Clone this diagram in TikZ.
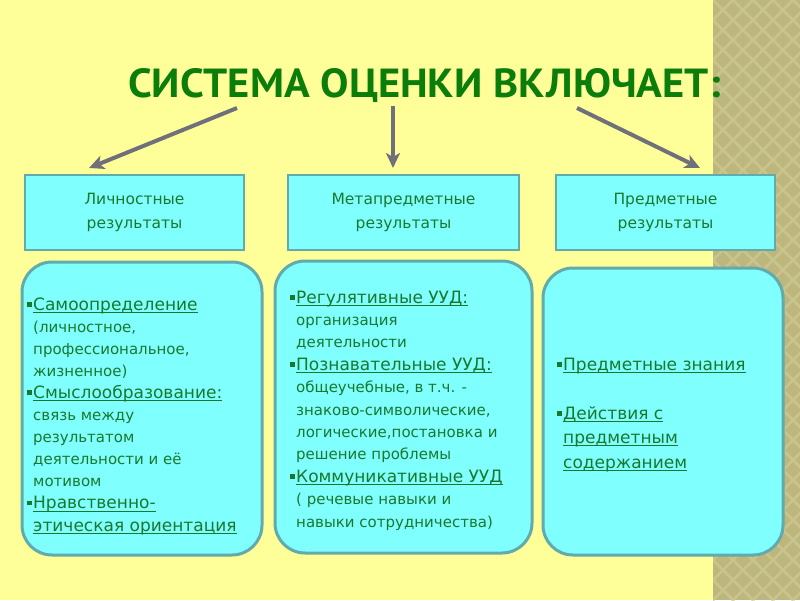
\documentclass[tikz,border=0pt]{standalone}
\usepackage{fontspec}
\usepackage{graphicx}
\setmainfont{DejaVu Sans}
\newfontfamily\titlefont{PT Sans}
\usetikzlibrary{arrows.meta}
\definecolor{bgY}{RGB}{255,255,153}
\definecolor{khaki}{RGB}{189,183,126}
\definecolor{khakiL}{RGB}{201,195,142}
\definecolor{cyanF}{RGB}{128,255,255}
\definecolor{boxB}{RGB}{98,170,172}
\definecolor{titleG}{RGB}{10,125,10}
\definecolor{textG}{RGB}{25,120,45}
\definecolor{arrG}{RGB}{112,112,122}
\newcommand\uln[1]{\setbox0\hbox{#1}\rlap{\rule[-2.6pt]{\wd0}{1pt}}\box0}
\newcommand\bul{\llap{\rule[3.5pt]{4.5pt}{4.5pt}\hspace{1.5pt}}}
\newcommand\hd[1]{{\fontsize{17}{22}\selectfont\bul\uln{#1}}}
\newcommand\hdc[1]{{\fontsize{17}{22}\selectfont\uln{#1}}}
\tikzset{
  topbox/.style={draw=boxB, line width=2.5pt, fill=cyanF, inner sep=0pt, text=textG,
    align=center, font=\fontsize{15.5}{24}\selectfont, minimum height=75pt},
  bigbox/.style={draw=boxB, line width=3pt, fill=cyanF, rounded corners=30pt, inner sep=0pt},
  bodytxt/.style={text=textG, align=left, inner sep=0pt, anchor=base west},
  arr/.style={draw=arrG, line width=4pt, -{Stealth[length=15pt,width=14pt,inset=4pt]}}
}
\begin{document}
\begin{tikzpicture}[x=1pt,y=-1pt]
\useasboundingbox (0,0) rectangle (800,600);
\fill[bgY] (0,0) rectangle (713,600);
\fill[khaki] (713,0) rectangle (800,600);
\begin{scope}
\clip (713,0) rectangle (800,600);
\foreach \i in {-32,...,36} {
  \draw[khakiL, line width=2.5pt] ({713+\i*20},0) -- ++(600,600);
  \draw[khakiL, line width=2.5pt] ({713+\i*20},0) -- ++(-600,600);
}
\end{scope}

\node[text=titleG, inner sep=0pt, anchor=base west] (title) at (128,97)
  {\resizebox{592pt}{29pt}{\titlefont\bfseries СИСТЕМА ОЦЕНКИ ВКЛЮЧАЕТ:}};

\node[topbox, minimum width=219pt] (p1) at (134.5,212.5) {Личностные\\результаты};
\node[topbox, minimum width=231pt] (p2) at (403.5,212.5) {Метапредметные\\результаты};
\node[topbox, minimum width=219pt] (p3) at (665.5,212.5) {Предметные\\результаты};

\coordinate (a1s) at (237,108);
\coordinate (a1e) at (89,168);
\coordinate (a2s) at (393,106);
\coordinate (a2e) at (393,168);
\coordinate (a3s) at (577,108);
\coordinate (a3e) at (700,168);
\draw[arr] (a1s) -- (a1e);
\draw[arr] (a2s) -- (a2e);
\draw[arr] (a3s) -- (a3e);

\node[bigbox, minimum width=240pt, minimum height=293pt] (b1) at (142,408.5) {};
\node[bigbox, minimum width=257pt, minimum height=292pt] (b2) at (403.5,407) {};
\node[bigbox, minimum width=240pt, minimum height=287pt] (b3) at (663,411.5) {};

\node[bodytxt, font=\fontsize{15}{22.1}\selectfont] (t1) at (33,531) {%
\hd{Самоопределение}\\
(личностное,\\
профессиональное,\\
жизненное)\\
\hd{Смыслообразование:}\\
связь между\\
результатом\\
деятельности и её\\
мотивом\\
\hd{Нравственно-}\\
\hdc{этическая ориентация}};

\node[bodytxt, font=\fontsize{15}{22.4}\selectfont] (t2) at (296,527) {%
\hd{Регулятивные УУД:}\\
организация\\
деятельности\\
\hd{Познавательные УУД:}\\
общеучебные, в т.ч. -\\
знаково-символические,\\
логические,постановка и\\
решение проблемы\\
\hd{Коммуникативные УУД}\\
( речевые навыки и\\
навыки сотрудничества)};

\node[bodytxt, font=\fontsize{15}{24.5}\selectfont] (t3) at (563,468) {%
\hd{Предметные знания}\\[24.5pt]
\hd{Действия с}\\
\hdc{предметным}\\
\hdc{содержанием}};
\end{tikzpicture}
\end{document}
